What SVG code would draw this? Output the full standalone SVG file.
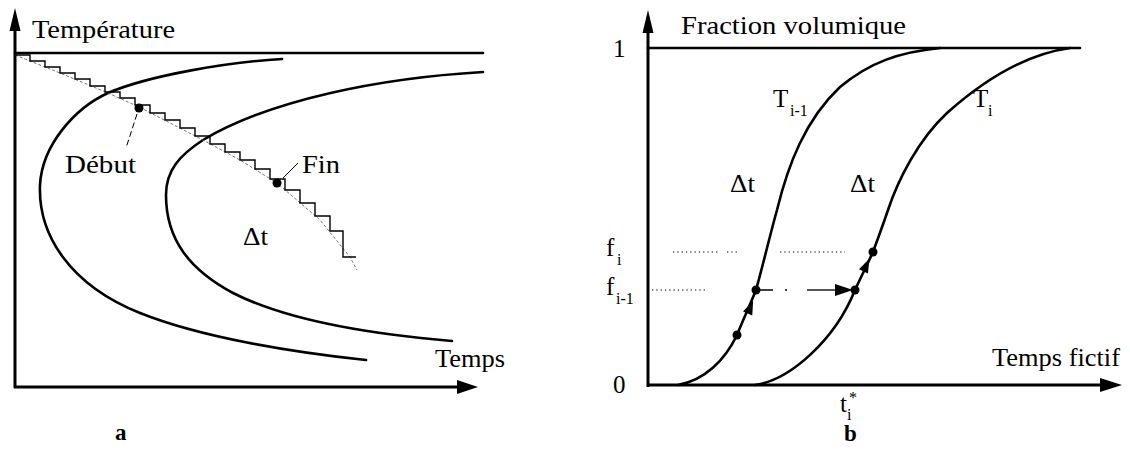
<svg xmlns="http://www.w3.org/2000/svg" width="1130" height="456" viewBox="0 0 1130 456">
<style>
.ax{stroke:#000;stroke-width:3;fill:none}
.cv{stroke:#000;stroke-width:2.6;fill:none;stroke-linecap:round}
.thin{stroke:#000;stroke-width:1.4;fill:none}
.guide{stroke:#666;stroke-width:0.9;fill:none;stroke-dasharray:3 2}
.dot{stroke:#555;stroke-width:1.3;fill:none;stroke-dasharray:1.3 3}
.lbl{font-family:"Liberation Serif","Times New Roman",serif;font-size:25px;fill:#000}
.sub{font-family:"Liberation Serif","Times New Roman",serif;font-size:16px;fill:#000}
.cap{font-family:"Liberation Serif","Times New Roman",serif;font-size:23px;font-weight:bold;fill:#000}
</style>
<rect width="1130" height="456" fill="#fff"/>

<g id="panel-a-axes">
  <line class="ax" x1="15" y1="388" x2="15" y2="26"/>
  <polygon points="15,8 9.5,31 20.5,31" fill="#000"/>
  <line class="ax" x1="14" y1="387" x2="462" y2="387"/>
  <polygon points="478,387 457,380 457,394" fill="#000"/>
  <line class="cv" x1="15" y1="53" x2="483" y2="53"/>
  <text class="lbl" x="32" y="38" textLength="143" lengthAdjust="spacingAndGlyphs">Température</text>
  <text class="lbl" x="435" y="367" textLength="70" lengthAdjust="spacingAndGlyphs">Temps</text>
  <text class="cap" x="115" y="440">a</text>
</g>

<g id="curve-debut">
  <path class="cv" d="M282,59 C230,62 150,75 108,93 C75,108 42,145 40,185 C38,235 70,285 140,313 C200,337 290,352 366,360"/>
</g>
<g id="curve-fin">
  <path class="cv" d="M483,72 C380,78 270,100 203,140 C180,155 166,170 166,195 C166,240 190,270 233,293 C290,322 380,335 452,341"/>
</g>

<g id="cooling">
  <path class="guide" d="M15,55 L60,73 L108,93 L139,107 L203,140 L240,160 L277,183 L320,220 L350,257 L357,270"/>
  <path class="thin" d="M15,55 H30 V61 H45 V67 H60 V73 H75 V79 H90 V86 H105 V92 H120 V98 H135 V105 H150 V113 H165 V120 H180 V128 H195 V136 H210 V144 H225 V152 H240 V160 H255 V169 H270 V179 H285 V190 H300 V203 H315 V216 H330 V231 H343 V257 H356"/>
</g>

<g id="debut">
  <circle cx="139" cy="108" r="4.5" fill="#000"/>
  <line x1="137" y1="114" x2="126" y2="148" stroke="#000" stroke-width="1" stroke-dasharray="6 3"/>
  <text class="lbl" x="65" y="173" textLength="71" lengthAdjust="spacingAndGlyphs">Début</text>
</g>
<g id="fin">
  <circle cx="277" cy="183" r="4.5" fill="#000"/>
  <line x1="283" y1="178" x2="298" y2="163" stroke="#000" stroke-width="1"/>
  <text class="lbl" x="302" y="173" textLength="38" lengthAdjust="spacingAndGlyphs">Fin</text>
</g>
<g id="dt-a">
  <text class="lbl" x="243" y="245" textLength="25" lengthAdjust="spacingAndGlyphs">Δt</text>
</g>

<g id="panel-b-axes">
  <line class="ax" x1="648" y1="387" x2="648" y2="28"/>
  <polygon points="648,10 642.5,33 653.5,33" fill="#000"/>
  <line class="ax" x1="647" y1="385" x2="1104" y2="385"/>
  <polygon points="1122,385 1100,378 1100,392" fill="#000"/>
  <line class="cv" x1="648" y1="48" x2="1080" y2="48"/>
  <text class="lbl" x="681" y="34" textLength="225" lengthAdjust="spacingAndGlyphs">Fraction volumique</text>
  <text class="lbl" x="992" y="366" textLength="128" lengthAdjust="spacingAndGlyphs">Temps fictif</text>
  <text class="lbl" x="613" y="57">1</text>
  <text class="lbl" x="613" y="393">0</text>
  <text class="cap" x="844" y="441">b</text>
</g>

<g id="curve-Ti-1">
  <path class="cv" d="M678,385 C705,380 725,360 737,335 C743,320 750,305 756,290 C763,265 770,235 777,210 C788,165 805,120 840,87 C870,62 900,52 940,48"/>
  <text class="lbl" x="773" y="107">T</text>
  <text class="sub" x="790" y="116">i-1</text>
</g>
<g id="curve-Ti">
  <path class="cv" d="M755,385 C790,380 835,340 855,290 C861,277 867,265 873,252 C878,238 883,225 888,210 C898,180 918,140 947,113 C975,88 1020,55 1070,48"/>
  <text class="lbl" x="973" y="107">T</text>
  <text class="sub" x="988" y="116">i</text>
</g>

<g id="levels">
  <line class="dot" x1="673" y1="252" x2="718" y2="252"/>
  <line class="dot" x1="727" y1="252" x2="738" y2="252"/>
  <line class="dot" x1="780" y1="252" x2="845" y2="252"/>
  <line class="dot" x1="652" y1="290" x2="705" y2="290"/>
  <text class="lbl" x="606" y="256">f</text>
  <text class="sub" x="617" y="265">i</text>
  <text class="lbl" x="606" y="295">f</text>
  <text class="sub" x="616" y="304">i-1</text>
  <text class="lbl" x="730" y="192" textLength="25" lengthAdjust="spacingAndGlyphs">Δt</text>
  <text class="lbl" x="850" y="192" textLength="25" lengthAdjust="spacingAndGlyphs">Δt</text>
  <text class="lbl" x="840" y="412">t</text>
  <text class="sub" x="847" y="420">i</text>
  <text class="sub" x="849" y="403">*</text>
</g>

<g id="connectors">
  <circle cx="737" cy="335" r="4.5" fill="#000"/>
  <circle cx="756" cy="290" r="4.5" fill="#000"/>
  <circle cx="855" cy="290" r="4.5" fill="#000"/>
  <circle cx="873" cy="252" r="4.5" fill="#000"/>
  <polygon points="0,-8 5,6 -5,6" fill="#000" transform="translate(750,308) rotate(23)"/>
  <polygon points="0,-8 5,6 -5,6" fill="#000" transform="translate(866,266) rotate(25)"/>
  <line x1="760" y1="290" x2="773" y2="290" stroke="#000" stroke-width="1.5"/>
  <line x1="785" y1="290" x2="787" y2="290" stroke="#000" stroke-width="1.5"/>
  <line x1="807" y1="290" x2="838" y2="290" stroke="#444" stroke-width="1.8"/>
  <polygon points="853,290 835,284 835,296" fill="#000"/>
</g>
</svg>
